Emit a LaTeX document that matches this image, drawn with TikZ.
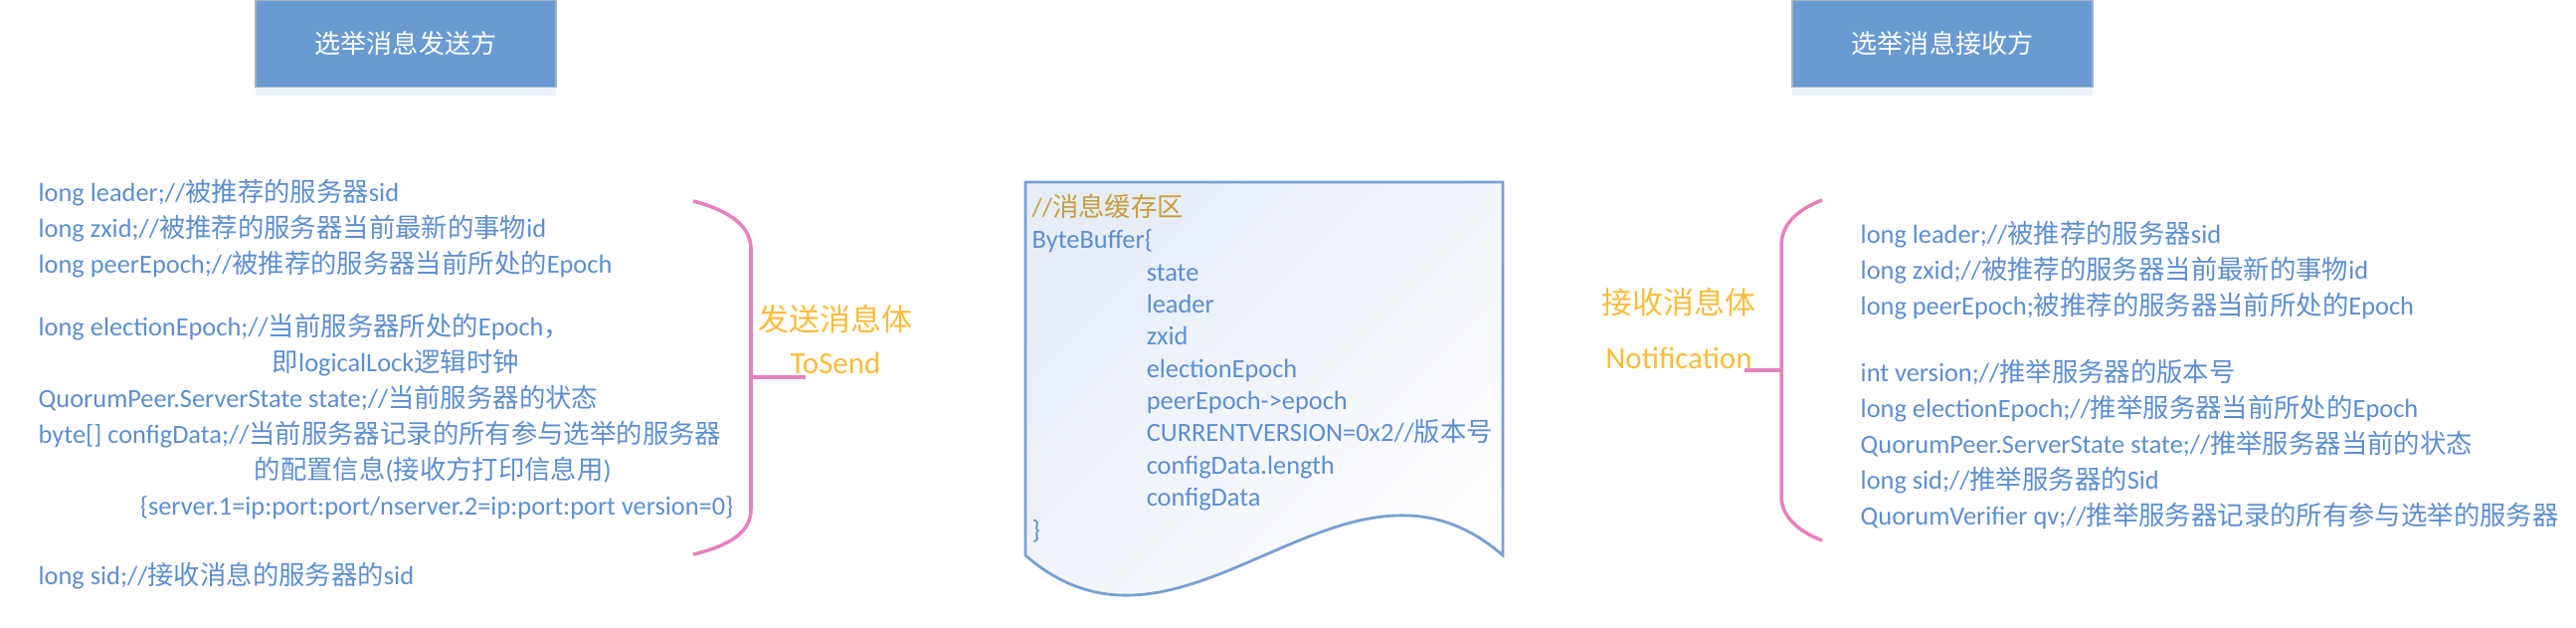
\documentclass[tikz,border=0pt]{standalone}
\usepackage{fontspec}
\setmainfont{Carlito}
\newfontfamily\cjkfont{Noto Sans CJK SC}
\newcommand\zw[1]{{\cjkfont #1}}
\usepackage{xcolor}
\usetikzlibrary{positioning,shadows}

\definecolor{boxblue}{RGB}{105,155,210}
\definecolor{boxedge}{RGB}{165,178,196}
\definecolor{txtblue}{RGB}{92,142,208}
\definecolor{lblorange}{RGB}{250,188,60}
\definecolor{bracepink}{RGB}{232,128,190}
\definecolor{docedge}{RGB}{120,160,210}
\definecolor{docfill}{RGB}{230,237,248}
\definecolor{notegold}{RGB}{200,158,60}

\begin{document}
\begin{tikzpicture}[x=0.01cm,y=-0.01cm,
  titlebox/.style={draw=boxedge,fill=boxblue,text=white,minimum width=3.02cm,
    minimum height=0.87cm,inner sep=0pt,font=\fontsize{7.4}{9}\selectfont,
    drop shadow={shadow xshift=0pt,shadow yshift=-2.5pt,opacity=.12,fill=boxblue}},
  fields/.style={text=txtblue,align=left,anchor=base west,inner sep=0pt,
    font=\fontsize{7.5}{10.2}\selectfont},
  bodyname/.style={text=lblorange,align=center,inner sep=0pt},
  brace/.style={draw=bracepink,line width=1pt}]
\useasboundingbox (0,0) rectangle (2590,630);

% the two parties
\node[titlebox] (sender) at (408,44) {\zw{选举消息发送方}};
\node[titlebox] (receiver) at (1953,44) {\zw{选举消息接收方}};

% sender side: ToSend (anchored on the last line)
\node[fields] (sendfields) at (38,587) {long leader;//\zw{被推荐的服务器}sid\\
  long zxid;//\zw{被推荐的服务器当前最新的事物}id\\
  long peerEpoch;//\zw{被推荐的服务器当前所处的}Epoch\\[7.7pt]
  long electionEpoch;//\zw{当前服务器所处的}Epoch\zw{，}\\
  \hspace*{2.35cm}\zw{即}logicalLock\zw{逻辑时钟}\\
  QuorumPeer.ServerState state;//\zw{当前服务器的状态}\\
  byte[] configData;//\zw{当前服务器记录的所有参与选举的服务器}\\
  \hspace*{2.17cm}\zw{的配置信息}(\zw{接收方打印信息用})\\
  \hspace*{1.02cm}\{server.1=ip:port:port/nserver.2=ip:port:port version=0\}\\[9.7pt]
  long sid;//\zw{接收消息的服务器的}sid};
\draw[brace] (697,202) .. controls (735,212) and (755,228) .. (755,250)
  -- (755,512) .. controls (755,534) and (735,548) .. (697,557);
\draw[brace] (755,379) -- (810,379);
\node[bodyname,font=\fontsize{8.8}{12.2}\selectfont] (tosend) at (840,341)
  {\zw{发送消息体}\\ToSend};

% message buffer
\path[draw=docedge,line width=0.8pt,top color=docfill,bottom color=white,shading angle=45]
  (1031,183) -- (1511,183) -- (1511,558)
  .. controls (1351,419) and (1191,697) .. (1031,558) -- cycle;
\node[fields,font=\fontsize{7.5}{9.2}\selectfont] (buffer) at (1037,541)
  {\textcolor{notegold}{//\zw{消息缓存区}}\\
  ByteBuffer\{\\
  \hspace*{1.15cm}state\\
  \hspace*{1.15cm}leader\\
  \hspace*{1.15cm}zxid\\
  \hspace*{1.15cm}electionEpoch\\
  \hspace*{1.15cm}peerEpoch->epoch\\
  \hspace*{1.15cm}CURRENTVERSION=0x2//\zw{版本号}\\
  \hspace*{1.15cm}configData.length\\
  \hspace*{1.15cm}configData\\
  \}};

% receiver side: Notification
\node[bodyname,font=\fontsize{8.8}{15.4}\selectfont] (notify) at (1688,330)
  {\zw{接收消息体}\\Notification};
\draw[brace] (1832,201) .. controls (1806,211) and (1791,226) .. (1791,247)
  -- (1791,498) .. controls (1791,518) and (1806,533) .. (1832,543);
\draw[brace] (1791,372) -- (1754,372);
\node[fields] (recvfields) at (1870,527) {long leader;//\zw{被推荐的服务器}sid\\
  long zxid;//\zw{被推荐的服务器当前最新的事物}id\\
  long peerEpoch;\zw{被推荐的服务器当前所处的}Epoch\\[8.8pt]
  int version;//\zw{推举服务器的版本号}\\
  long electionEpoch;//\zw{推举服务器当前所处的}Epoch\\
  QuorumPeer.ServerState state;//\zw{推举服务器当前的状态}\\
  long sid;//\zw{推举服务器的}Sid\\
  QuorumVerifier qv;//\zw{推举服务器记录的所有参与选举的服务器}};
\end{tikzpicture}
\end{document}
